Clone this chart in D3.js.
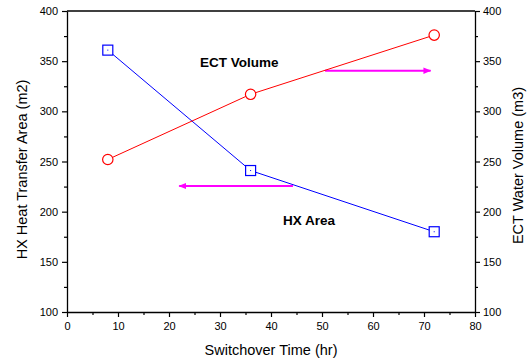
<!DOCTYPE html>
<html>
<head>
<meta charset="utf-8">
<script src="https://cdn.jsdelivr.net/npm/d3@7"></script>
<style>
  body { margin: 0; background: #fff; }
  svg { display: block; font-family: "Liberation Sans", Arial, sans-serif; }
  .domain { stroke: #000; }
</style>
</head>
<body>
<div id="chart"></div>
<script>
// chart size
const width = 528;
const height = 363;
const margin = {left: 67, right: 53, top: 11, bottom: 51};

// data
const hours = [8, 36, 72];
const hxArea = [361, 241, 180];      // left axis, m2
const ectVolume = [252, 317, 376];   // right axis, m3

const xTicks = [0, 10, 20, 30, 40, 50, 60, 70, 80];
const xMinor = [5, 15, 25, 35, 45, 55, 65, 75];
const yTicks = [100, 150, 200, 250, 300, 350, 400];
const yMinor = [125, 175, 225, 275, 325, 375];

// annotation arrows [from x, to x, y]
const arrowHX = [44.3, 22, 225.6];
const arrowECT = [50.6, 71.3, 340.5];

const svg = d3.select("#chart")
  .append("svg")
  .attr("width", width)
  .attr("height", height);

const x = d3.scaleLinear()
  .domain([0, 80])
  .range([margin.left, width - margin.right]);

const yLeft = d3.scaleLinear()
  .domain([100, 400])
  .range([height - margin.bottom, margin.top]);

const yRight = d3.scaleLinear()
  .domain([100, 400])
  .range([height - margin.bottom, margin.top]);

// minor ticks first
svg.append("g")
  .attr("transform", `translate(0,${height - margin.bottom})`)
  .call(d3.axisBottom(x).tickValues(xMinor).tickSize(3).tickFormat("").tickSizeOuter(0))
  .call(g => g.select(".domain").remove());
svg.append("g")
  .attr("transform", `translate(${margin.left},0)`)
  .call(d3.axisLeft(yLeft).tickValues(yMinor).tickSize(3).tickFormat("").tickSizeOuter(0))
  .call(g => g.select(".domain").remove());
svg.append("g")
  .attr("transform", `translate(${width - margin.right},0)`)
  .call(d3.axisRight(yRight).tickValues(yMinor).tickSize(3).tickFormat("").tickSizeOuter(0))
  .call(g => g.select(".domain").remove());

// major axes
svg.append("g")
  .attr("transform", `translate(0,${height - margin.bottom})`)
  .call(d3.axisBottom(x).tickValues(xTicks).tickSize(5).tickPadding(5).tickSizeOuter(0))
  .attr("font-size", "11px");
svg.append("g")
  .attr("transform", `translate(${margin.left},0)`)
  .call(d3.axisLeft(yLeft).tickValues(yTicks).tickSize(5).tickPadding(4).tickSizeOuter(0))
  .attr("font-size", "11px");
svg.append("g")
  .attr("transform", `translate(${width - margin.right},0)`)
  .call(d3.axisRight(yRight).tickValues(yTicks).tickSize(5).tickPadding(3).tickSizeOuter(0))
  .attr("font-size", "11px");

svg.selectAll(".domain").attr("stroke-width", 1.3);
svg.selectAll(".tick line").attr("stroke-width", 1.2);
svg.selectAll(".tick text").attr("fill", "#000");

// top frame line
svg.append("line")
  .attr("x1", x(0)).attr("x2", x(80))
  .attr("y1", yLeft(400)).attr("y2", yLeft(400))
  .attr("stroke", "#000").attr("stroke-width", 1.3);

// axis titles
svg.append("text")
  .attr("x", x(40)).attr("y", height - 8)
  .attr("text-anchor", "middle")
  .attr("font-size", "14.5px")
  .text("Switchover Time (hr)");
svg.append("text")
  .attr("transform", `translate(27,${yLeft(250) + 8}) rotate(-90)`)
  .attr("text-anchor", "middle")
  .attr("font-size", "14.5px")
  .text("HX Heat Transfer Area (m2)");
svg.append("text")
  .attr("transform", `translate(523,${yRight(250) + 4}) rotate(-90)`)
  .attr("text-anchor", "middle")
  .attr("font-size", "14.5px")
  .text("ECT Water Volume (m3)");

// arrows
const defs = svg.append("defs");
defs.append("marker")
  .attr("id", "head")
  .attr("viewBox", "0 0 10 10")
  .attr("refX", 9).attr("refY", 5)
  .attr("markerWidth", 4).attr("markerHeight", 4)
  .attr("orient", "auto")
  .append("path")
  .attr("d", "M0,1 L10,5 L0,9 Z")
  .attr("fill", "#ff00ff");

svg.append("line")
  .attr("x1", x(arrowHX[0])).attr("x2", x(arrowHX[1]))
  .attr("y1", yLeft(arrowHX[2])).attr("y2", yLeft(arrowHX[2]))
  .attr("stroke", "#ff00ff").attr("stroke-width", 2)
  .attr("marker-end", "url(#head)");
svg.append("line")
  .attr("x1", x(arrowECT[0])).attr("x2", x(arrowECT[1]))
  .attr("y1", yRight(arrowECT[2])).attr("y2", yRight(arrowECT[2]))
  .attr("stroke", "#ff00ff").attr("stroke-width", 2)
  .attr("marker-end", "url(#head)");

// HX area line (blue squares)
const hxData = hours.map((h, i) => ({x: h, y: hxArea[i]}));
const ectData = hours.map((h, i) => ({x: h, y: ectVolume[i]}));

svg.append("path")
  .datum(hxData)
  .attr("fill", "none")
  .attr("stroke", "#0000ff")
  .attr("stroke-width", 1)
  .attr("d", d3.line().x(d => x(d.x)).y(d => yLeft(d.y)));

svg.selectAll(".sq")
  .data(hxData)
  .enter()
  .append("rect")
  .attr("class", "sq")
  .attr("x", d => x(d.x) - 5)
  .attr("y", d => yLeft(d.y) - 5)
  .attr("width", 10).attr("height", 10)
  .attr("fill", "#fff")
  .attr("stroke", "#0000ff")
  .attr("stroke-width", 1.2);

svg.selectAll(".dot")
  .data(hxData)
  .enter()
  .append("rect")
  .attr("class", "dot")
  .attr("x", d => x(d.x) - 0.5)
  .attr("y", d => yLeft(d.y) - 0.5)
  .attr("width", 1).attr("height", 1)
  .attr("fill", "#0000ff");

// ECT volume line (red circles)
svg.append("path")
  .datum(ectData)
  .attr("fill", "none")
  .attr("stroke", "#ff0000")
  .attr("stroke-width", 1)
  .attr("d", d3.line().x(d => x(d.x)).y(d => yRight(d.y)));

svg.selectAll(".circ")
  .data(ectData)
  .enter()
  .append("circle")
  .attr("class", "circ")
  .attr("cx", d => x(d.x))
  .attr("cy", d => yRight(d.y))
  .attr("r", 5.2)
  .attr("fill", "#fff")
  .attr("stroke", "#ff0000")
  .attr("stroke-width", 1.2);

// series labels
svg.append("text")
  .attr("x", 200).attr("y", 67)
  .attr("font-size", "13.5px")
  .attr("font-weight", "bold")
  .text("ECT Volume");
svg.append("text")
  .attr("x", 283).attr("y", 225)
  .attr("font-size", "13.5px")
  .attr("font-weight", "bold")
  .text("HX Area");
</script>
</body>
</html>
